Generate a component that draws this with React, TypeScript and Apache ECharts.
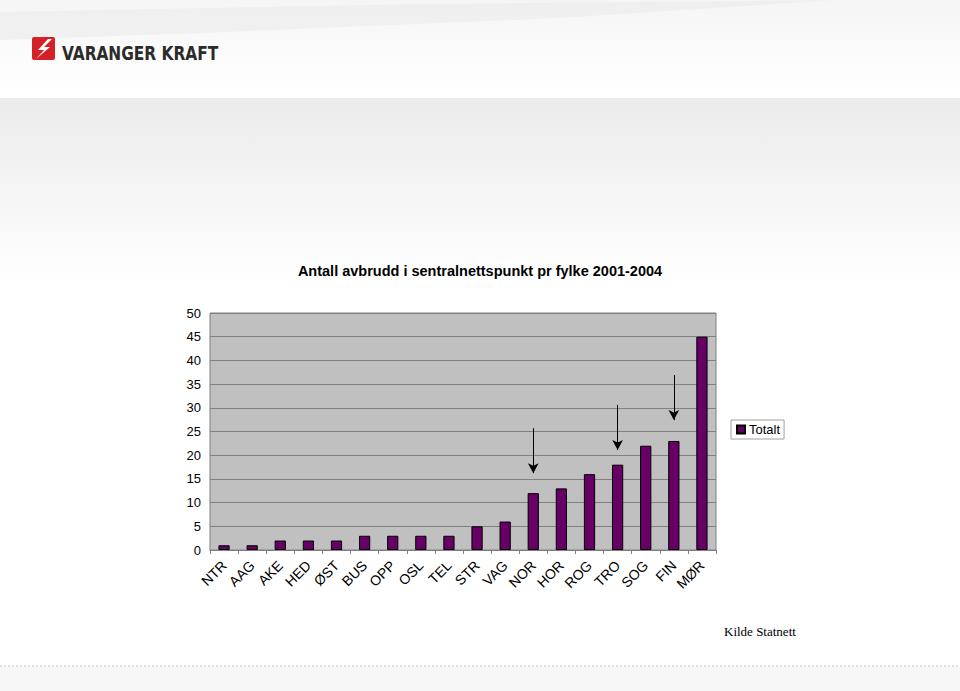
import React, { useEffect, useRef } from "react";
import * as echarts from "echarts";

const categories = ["NTR", "AAG", "AKE", "HED", "ØST", "BUS", "OPP", "OSL", "TEL", "STR", "VAG", "NOR", "HOR", "ROG", "TRO", "SOG", "FIN", "MØR"];
const totalt = [1, 1, 2, 2, 2, 3, 3, 3, 3, 5, 6, 12, 13, 16, 18, 22, 23, 45];
// annotation arrows: [category, start value, tip value]
const arrowCats = ["NOR", "TRO", "FIN"];
const arrowFrom = [25.7, 30.6, 36.9];
const arrowTo = [16.2, 21.1, 27.4];
const yTicks = { min: 0, max: 50, interval: 5 };

const titleText = "Antall avbrudd i sentralnettspunkt pr fylke 2001-2004";
const seriesName = "Totalt";
const sourceText = "Kilde Statnett";
const brandText = "VARANGER KRAFT";

export default function App() {
  const ref = useRef<HTMLDivElement>(null);
  useEffect(() => {
    if (!ref.current) return;
    const chart = echarts.init(ref.current, null, { renderer: "svg" });
    const font = "Liberation Sans, Arial, sans-serif";
    chart.setOption({
      animation: false,
      backgroundColor: "#ffffff",
      textStyle: { fontFamily: font },
      title: {
        text: titleText,
        left: "center",
        top: 258,
        textStyle: { fontSize: 14.5, fontWeight: "bold", color: "#000", fontFamily: font },
      },
      graphic: [
        {
          type: "rect",
          shape: { x: 0, y: 0, width: 960, height: 90 },
          style: {
            fill: new echarts.graphic.LinearGradient(0, 0, 0, 1, [
              { offset: 0, color: "#f5f5f5" },
              { offset: 1, color: "#ffffff" },
            ]),
          },
          z: -10,
        },
        {
          type: "polygon",
          shape: { points: [[0, 40], [0, 12], [420, 4], [835, 0], [560, 18], [200, 33]] },
          style: { fill: "#ececec", opacity: 0.7 },
          z: -9,
        },
        {
          type: "rect",
          shape: { x: 0, y: 98, width: 960, height: 185 },
          style: {
            fill: new echarts.graphic.LinearGradient(0, 0, 0, 1, [
              { offset: 0, color: "#ebebeb" },
              { offset: 0.55, color: "#f6f6f6" },
              { offset: 1, color: "#ffffff" },
            ]),
          },
          z: -10,
        },
        {
          type: "rect",
          shape: { x: 0, y: 666, width: 960, height: 25 },
          style: { fill: "#f7f7f7" },
          z: -10,
        },
        {
          type: "line",
          shape: { x1: 0, y1: 666, x2: 960, y2: 666 },
          style: { stroke: "#c8c8c8", lineWidth: 1, lineDash: [2, 2] },
          z: -9,
        },
        {
          type: "rect",
          shape: { x: 32, y: 37, width: 23, height: 23, r: 2 },
          style: { fill: "#d42027" },
        },
        {
          type: "polygon",
          shape: { points: [[48, 39], [38, 50], [44, 50], [36, 59], [50, 47], [44, 47], [52, 39]] },
          style: { fill: "#ffffff" },
        },
        {
          type: "text",
          x: 62,
          y: 53,
          scaleX: 0.9,
          style: {
            text: brandText,
            fill: "#2b2b2b",
            font: "bold 19px 'DejaVu Sans Condensed', 'Liberation Sans Narrow', Arial, sans-serif",
            textVerticalAlign: "middle",
          },
        },
        {
          type: "text",
          x: 724,
          y: 625,
          style: {
            text: sourceText,
            fill: "#000",
            font: "13px 'Liberation Serif', 'Times New Roman', serif",
          },
        },
      ],
      legend: {
        data: [seriesName],
        left: 731,
        top: 420,
        orient: "vertical",
        backgroundColor: "#ffffff",
        borderColor: "#a0a0a0",
        borderWidth: 1,
        borderRadius: 0,
        padding: [3, 4, 3, 5],
        itemWidth: 8,
        itemHeight: 8,
        itemGap: 4,
        icon: "rect",
        textStyle: { fontSize: 13, color: "#000", fontFamily: font, padding: [0, 0, 0, -1] },
      },
      grid: {
        left: 210,
        right: 244,
        top: 313,
        bottom: 141,
        show: true,
        backgroundColor: "#c0c0c0",
        borderColor: "#808080",
        borderWidth: 1,
        containLabel: false,
      },
      xAxis: {
        type: "category",
        data: categories,
        boundaryGap: true,
        axisLine: { show: true, lineStyle: { color: "#808080", width: 1 } },
        axisTick: { show: true, alignWithLabel: false, length: 4, lineStyle: { color: "#808080" } },
        axisLabel: { interval: 0, rotate: 45, fontSize: 14, color: "#000", fontFamily: font, margin: 13 },
        splitLine: { show: false },
      },
      yAxis: {
        type: "value",
        min: yTicks.min,
        max: yTicks.max,
        interval: yTicks.interval,
        axisLine: { show: false },
        axisTick: { show: false },
        axisLabel: { fontSize: 13, color: "#000", fontFamily: font, margin: 9 },
        splitLine: { show: true, lineStyle: { color: "#808080", width: 1 } },
      },
      series: [
        {
          name: seriesName,
          type: "bar",
          data: totalt,
          barWidth: "40%",
          itemStyle: { color: "#660066", borderColor: "#000000", borderWidth: 1 },
          markLine: {
            silent: true,
            symbol: ["none", "arrow"],
            symbolSize: [8, 10],
            label: { show: false },
            lineStyle: { color: "#000", width: 1, type: "solid" },
            data: arrowCats.map((c, i) => [
              { coord: [c, arrowFrom[i]] },
              { coord: [c, arrowTo[i]] },
            ]),
          },
        },
      ],
    });
    return () => chart.dispose();
  }, []);
  return (
    <div
      ref={ref}
      style={{ position: "absolute", left: 0, top: 0, width: 960, height: 691 }}
    />
  );
}
